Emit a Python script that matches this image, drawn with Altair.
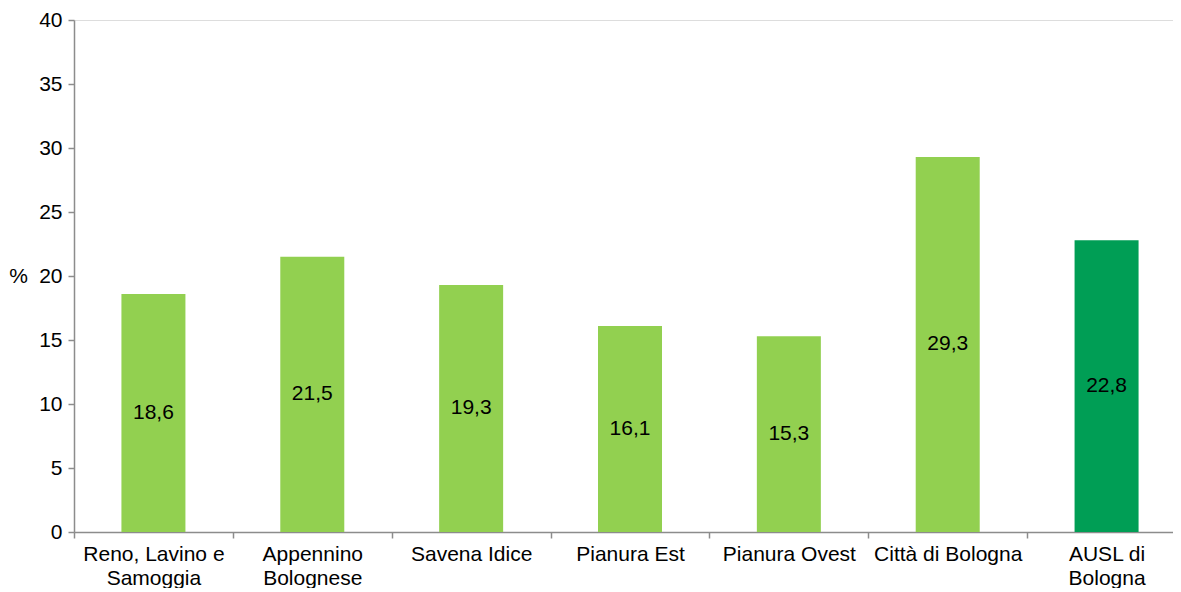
import altair as alt
import pandas as pd

categories = ["Reno, Lavino e|Samoggia", "Appennino|Bolognese", "Savena Idice",
              "Pianura Est", "Pianura Ovest", "Città di Bologna", "AUSL di|Bologna"]
values = [18.6, 21.5, 19.3, 16.1, 15.3, 29.3, 22.8]
labels = ["18,6", "21,5", "19,3", "16,1", "15,3", "29,3", "22,8"]
colors = ["#92D050", "#92D050", "#92D050", "#92D050", "#92D050", "#92D050", "#009E55"]
y_ticks = [0, 5, 10, 15, 20, 25, 30, 35, 40]

df = pd.DataFrame({"cat": categories, "val": values, "lab": labels, "col": colors})

FONT = "Liberation Sans"
FS = 21

x_enc = alt.X("cat:N", sort=None,
              scale=alt.Scale(paddingInner=0, paddingOuter=0, range=[0, 1112]),
              axis=alt.Axis(title=None, labelAngle=0, tickBand="extent",
                            labelExpr="split(datum.label, '|')",
                            labelFontSize=FS, labelFont=FONT, labelColor="#000000",
                            labelPadding=5, labelLineHeight=24,
                            domainColor="#8C8C8C", domainWidth=1.5,
                            tickColor="#8C8C8C", tickWidth=1.5, tickSize=6))

bars = alt.Chart(df).mark_bar(size=64).encode(
    x=x_enc,
    y=alt.Y("val:Q", scale=alt.Scale(domain=[0, 40], nice=False),
            axis=alt.Axis(values=y_ticks, grid=False, title="%", titleAngle=0,
                          titleX=-56, titleY=256, titleAlign="center",
                          titleBaseline="middle", titleFontSize=FS,
                          titleFontWeight="normal", titleFont=FONT, titleColor="#000000",
                          labelFontSize=FS, labelFont=FONT, labelColor="#000000",
                          labelPadding=6,
                          domainColor="#8C8C8C", domainWidth=1.5,
                          tickColor="#8C8C8C", tickWidth=1.5, tickSize=6)),
    color=alt.Color("col:N", scale=None),
)

text = alt.Chart(df).transform_calculate(mid="datum.val / 2").mark_text(
    fontSize=FS, font=FONT, color="#000000", baseline="middle", align="center"
).encode(
    x=alt.X("cat:N", sort=None),
    y=alt.Y("mid:Q"),
    text="lab:N",
)

chart = alt.layer(bars, text).properties(
    width=1099, height=512,
    autosize=alt.AutoSizeParams(type="none"),
    padding={"left": 66, "top": 12, "right": 0, "bottom": 56},
).configure_view(stroke=None).configure(background="white")

chart.save("out.html", embed_options={"renderer": "svg", "actions": False})
